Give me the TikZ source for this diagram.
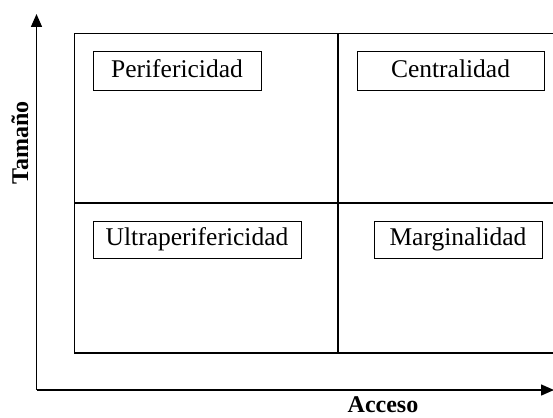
\documentclass[tikz,border=0pt]{standalone}
\usepackage{fontspec}
\setmainfont{Liberation Serif}
\usetikzlibrary{arrows.meta}

\tikzset{
  quadbox/.style={draw, line width=1pt, inner sep=0pt, text height=17pt, text depth=5pt,
    font=\fontsize{25.5}{26}\selectfont},
  axislabel/.style={inner sep=0pt, font=\fontsize{24}{24}\selectfont\bfseries},
  axisarrow/.style={line width=1.5pt,-{Triangle[length=13pt,width=11pt]}}
}

\begin{document}
\begin{tikzpicture}[x=1pt,y=-1pt]

    \useasboundingbox (0,0) rectangle (553,417);

    % draw axes
    \coordinate (origin) at (36.5,390);
    \coordinate (ytip) at (36.5,14);
    \coordinate (xtip) at (554,390);
    \draw[axisarrow] (origin) -- (ytip);
    \draw[axisarrow] (origin) -- (xtip);
    \node[axislabel,rotate=90] (tamano) at (20,143) {Tamaño};
    \node[axislabel,anchor=base] (acceso) at (383,412) {Acceso};

    % quadrants
    \draw[line width=1.3pt] (74.5,33.5) rectangle (602,353);
    \draw[line width=1.3pt] (338,33.5) -- (338,353);
    \draw[line width=1.3pt] (74.5,203) -- (602,203);

    % labels
    \node[quadbox,minimum width=168pt,minimum height=39pt] (perif) at (177,71.5) {Perifericidad};
    \node[quadbox,minimum width=187pt,minimum height=39pt] (centr) at (450.5,71.5) {Centralidad};
    \node[quadbox,minimum width=208pt,minimum height=37pt] (ultra) at (197,239.5) {Ultraperifericidad};
    \node[quadbox,minimum width=168pt,minimum height=37pt] (margi) at (458,239.5) {Marginalidad};

\end{tikzpicture}
\end{document}
